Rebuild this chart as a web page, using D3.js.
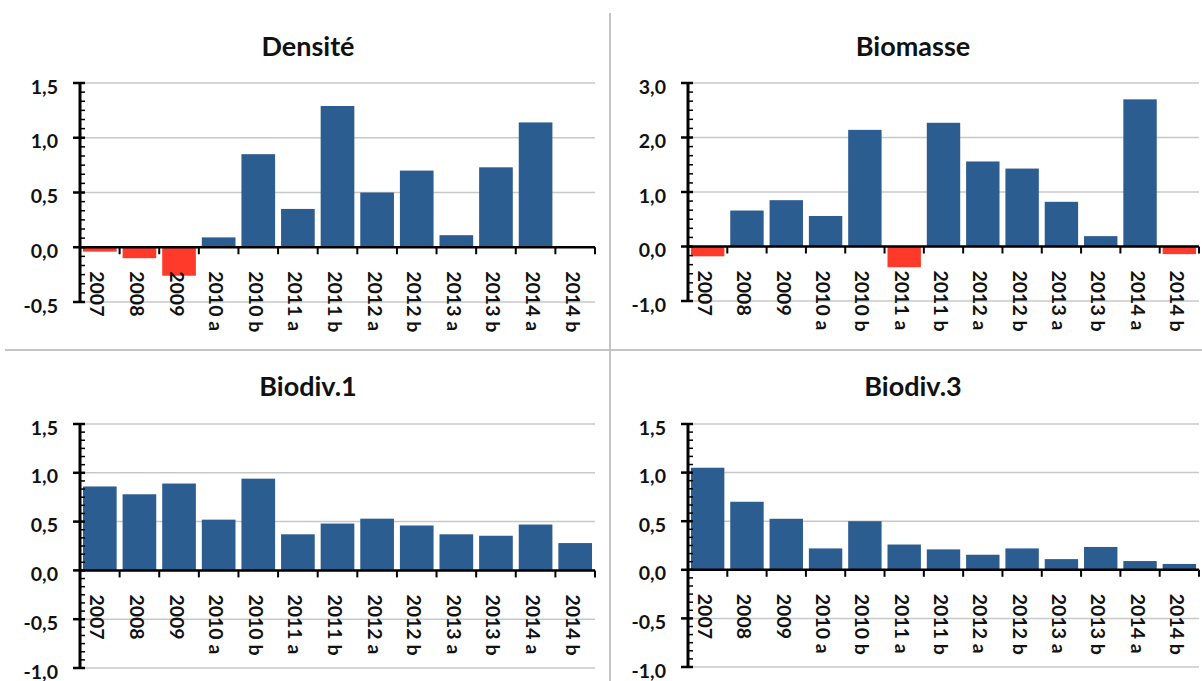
<!DOCTYPE html>
<html>
<head>
<meta charset="utf-8">
<script src="https://cdn.jsdelivr.net/npm/d3@7"></script>
<style>
  html, body { margin: 0; padding: 0; background: #fff; }
  svg { display: block; }
  text { font-family: Lato, "Open Sans", sans-serif; font-weight: 700; fill: #111; }
</style>
</head>
<body>
<svg id="chart" width="1202" height="681"></svg>
<script>
// ---- Data ----
const categories = ["2007", "2008", "2009", "2010 a", "2010 b", "2011 a", "2011 b",
                    "2012 a", "2012 b", "2013 a", "2013 b", "2014 a", "2014 b"];

const densite  = [-0.04, -0.10, -0.26, 0.09, 0.85, 0.35, 1.29, 0.50, 0.70, 0.11, 0.73, 1.14, 0.00];
const biomasse = [-0.18, 0.66, 0.85, 0.56, 2.14, -0.38, 2.27, 1.56, 1.43, 0.82, 0.19, 2.70, -0.14];
const biodiv1  = [0.86, 0.78, 0.89, 0.52, 0.94, 0.37, 0.48, 0.53, 0.46, 0.37, 0.355, 0.47, 0.28];
const biodiv3  = [1.05, 0.70, 0.525, 0.22, 0.50, 0.26, 0.21, 0.155, 0.22, 0.11, 0.235, 0.09, 0.06];

const ticksDensite  = [-0.5, 0, 0.5, 1.0, 1.5];
const ticksBiomasse = [-1, 0, 1, 2, 3];
const ticksBiodiv   = [-1.0, -0.5, 0, 0.5, 1.0, 1.5];

const titles = ["Densité", "Biomasse", "Biodiv.1", "Biodiv.3"];

// ---- Layout ----
const panels = [
  { title: titles[0], values: densite,  ticks: ticksDensite,  x0: 80,  x1: 595,  yTop: 83,  yBot: 302, tx: 308, ty: 45 },
  { title: titles[1], values: biomasse, ticks: ticksBiomasse, x0: 688, x1: 1199, yTop: 83,  yBot: 301, tx: 913, ty: 45 },
  { title: titles[2], values: biodiv1,  ticks: ticksBiodiv,   x0: 80,  x1: 595,  yTop: 424, yBot: 668, tx: 308, ty: 385 },
  { title: titles[3], values: biodiv3,  ticks: ticksBiodiv,   x0: 688, x1: 1199, yTop: 424, yBot: 667, tx: 913, ty: 385 }
];

const BLUE = "#2c5d91";
const RED = "#ff3a2a";
const fmt = v => d3.format(".1f")(v).replace(".", ",").replace("−", "-");

const svg = d3.select("#chart");

// separators
svg.append("line").attr("x1", 610).attr("x2", 610).attr("y1", 13).attr("y2", 681)
  .attr("stroke", "#c4c4c4").attr("stroke-width", 2);
svg.append("line").attr("x1", 5).attr("x2", 1202).attr("y1", 350).attr("y2", 350)
  .attr("stroke", "#c4c4c4").attr("stroke-width", 2);

panels.forEach(p => {
  const g = svg.append("g");
  const dom = d3.extent(p.ticks);
  const y = d3.scaleLinear().domain(dom).range([p.yBot, p.yTop]);
  const x = d3.scaleBand().domain(categories).range([p.x0, p.x1])
    .paddingInner(0.15).paddingOuter(0.075);

  // title
  g.append("text").attr("x", p.tx).attr("y", p.ty)
    .attr("text-anchor", "middle").attr("dominant-baseline", "central")
    .attr("font-size", 27).text(p.title);

  // gridlines
  g.selectAll(".grid").data(p.ticks).enter().append("line")
    .attr("x1", p.x0).attr("x2", p.x1)
    .attr("y1", d => y(d)).attr("y2", d => y(d))
    .attr("stroke", "#c8c8c8").attr("stroke-width", 1.5);

  // bars
  g.selectAll(".bar").data(p.values).enter().append("rect")
    .attr("x", (d, i) => x(categories[i]))
    .attr("width", x.bandwidth())
    .attr("y", d => y(Math.max(0, d)))
    .attr("height", d => Math.abs(y(d) - y(0)))
    .attr("fill", d => d < 0 ? RED : BLUE);

  // y axis with major & minor ticks
  const step = p.ticks[1] - p.ticks[0];
  const minor = [];
  for (let i = 0; i < p.ticks.length - 1; i++) {
    for (let k = 1; k < 6; k++) minor.push(p.ticks[i] + step * k / 6);
  }
  g.selectAll(".minor").data(minor).enter().append("line")
    .attr("x1", p.x0).attr("x2", p.x0 + 5)
    .attr("y1", d => y(d)).attr("y2", d => y(d))
    .attr("stroke", "#000").attr("stroke-width", 1.5);
  g.selectAll(".major").data(p.ticks).enter().append("line")
    .attr("x1", p.x0 - 7).attr("x2", p.x0 + 5)
    .attr("y1", d => y(d)).attr("y2", d => y(d))
    .attr("stroke", "#000").attr("stroke-width", 2.5);
  g.append("line").attr("x1", p.x0).attr("x2", p.x0)
    .attr("y1", p.yTop - 1).attr("y2", p.yBot + 1)
    .attr("stroke", "#000").attr("stroke-width", 3);
  g.selectAll(".ylab").data(p.ticks).enter().append("text")
    .attr("x", p.x0 - 22).attr("y", d => y(d) + 3)
    .attr("text-anchor", "end").attr("dominant-baseline", "central")
    .attr("font-size", 19.5).text(d => fmt(d));

  // x axis at zero
  const y0 = y(0);
  g.append("line").attr("x1", p.x0).attr("x2", p.x1)
    .attr("y1", y0).attr("y2", y0).attr("stroke", "#000").attr("stroke-width", 2.5);
  const bounds = categories.map(c => x(c) - x.step() * 0.075 + x.step());
  g.selectAll(".xtick").data(bounds).enter().append("line")
    .attr("x1", d => d).attr("x2", d => d)
    .attr("y1", y0).attr("y2", y0 + 7)
    .attr("stroke", "#000").attr("stroke-width", 2);
  g.selectAll(".xlab").data(categories).enter().append("text")
    .attr("transform", d => `translate(${x(d) + x.bandwidth() / 2 - 2},${y0 + 24}) rotate(90)`)
    .attr("text-anchor", "start").attr("dominant-baseline", "central")
    .attr("font-size", 19.5).text(d => d);
});
</script>
</body>
</html>
